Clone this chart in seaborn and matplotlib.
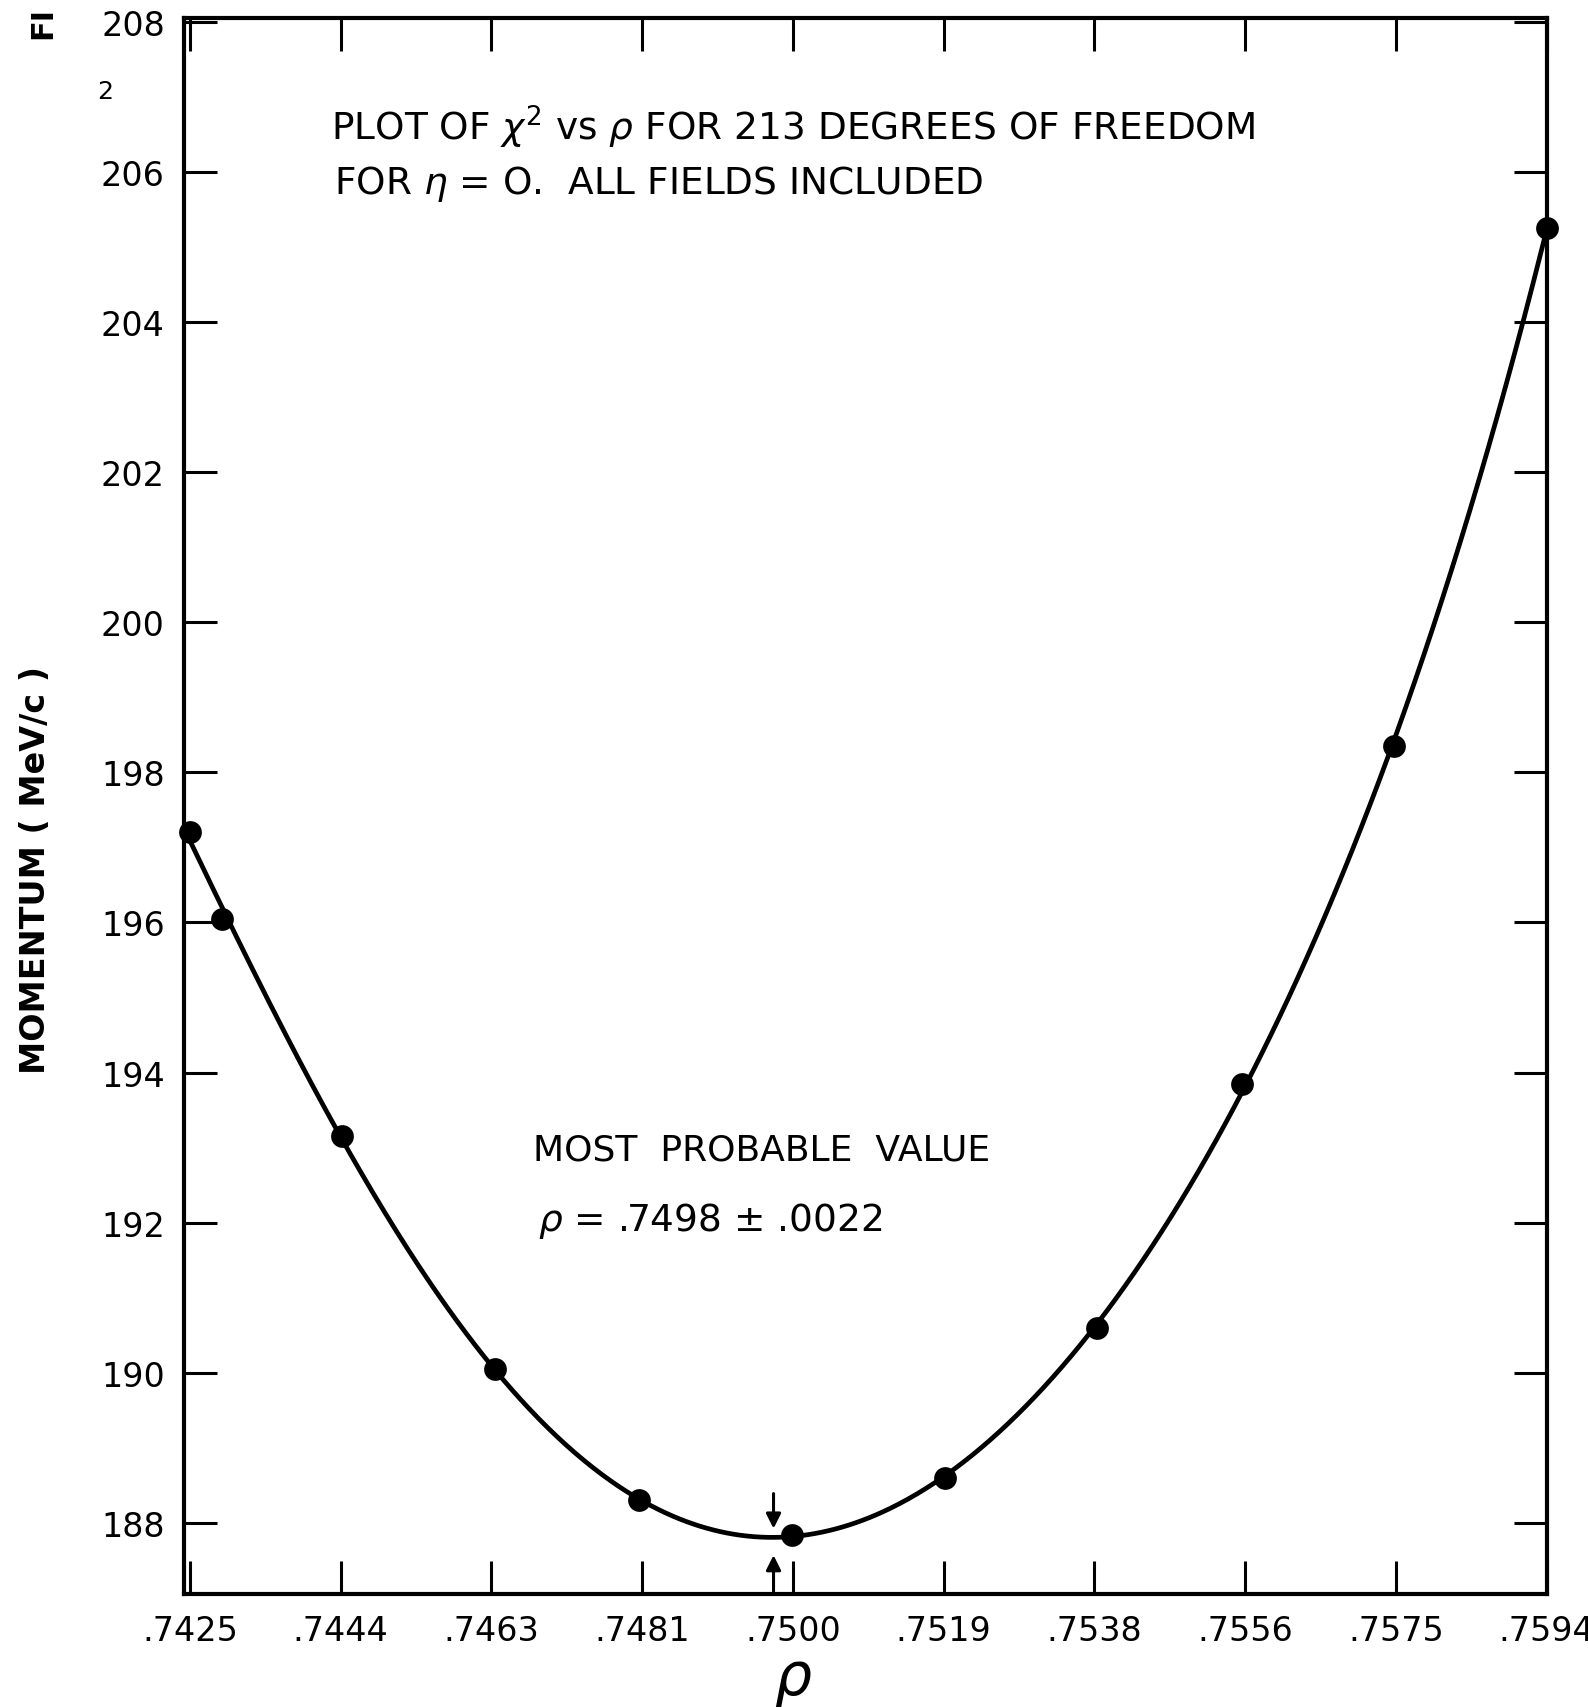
import numpy as np
import pandas as pd
import seaborn as sns
import matplotlib.pyplot as plt

# values
rho_values = [0.7425, 0.7429, 0.7444, 0.7463, 0.7481, 0.7500, 0.7519, 0.7538, 0.7556, 0.7575, 0.7594]
momentum_values = [197.2, 196.05, 193.15, 190.05, 188.3, 187.84, 188.6, 190.6, 193.85, 198.35, 205.25]
x_tick_labels = [".7425", ".7444", ".7463", ".7481", ".7500", ".7519", ".7538", ".7556", ".7575", ".7594"]
y_tick_values = [188, 190, 192, 194, 196, 198, 200, 202, 204, 206, 208]
best_rho = 0.7498
best_rho_err = 0.0022

sns.set_theme(style="ticks")
plt.rcParams['font.family'] = ['DejaVu Sans']
plt.rcParams['mathtext.fontset'] = 'dejavusans'
plt.rcParams['text.color'] = 'black'
plt.rcParams['axes.labelcolor'] = 'black'

df_points = pd.DataFrame({"rho": rho_values, "p": momentum_values})

# smooth least-squares curve through the points
xs = (np.array(rho_values) - 0.7510) * 1000
coef = np.polyfit(xs, momentum_values, 5)
x_dense = np.linspace(xs.min(), xs.max(), 600)
df_curve = pd.DataFrame({"rho": x_dense / 1000 + 0.7510, "p": np.polyval(coef, x_dense)})

fig = plt.figure(figsize=(15.88, 17.08), dpi=100)
ax = fig.add_axes([0.116, 0.066, 0.858, 0.923])

sns.lineplot(data=df_curve, x="rho", y="p", color="black", linewidth=3.4, ax=ax)
sns.scatterplot(data=df_points, x="rho", y="p", color="black", s=230, edgecolor="black",
                zorder=5, clip_on=False, ax=ax)

ax.set_xlim(0.74243, 0.7594)
ax.set_ylim(187.05, 208.05)

x_ticks = np.linspace(0.7425, 0.7594, len(x_tick_labels))
ax.set_xticks(x_ticks)
ax.set_xticklabels(x_tick_labels)
ax.set_yticks(y_tick_values)
ax.set_yticklabels([str(v) for v in y_tick_values])
ax.tick_params(axis="both", which="major", direction="in", length=24, width=2.2,
               top=True, right=True, labelsize=24, colors="black")
ax.tick_params(axis="x", pad=14)
ax.tick_params(axis="y", pad=14)
for s in ax.spines.values():
    s.set_linewidth(3)
    s.set_color("black")

ax.set_xlabel(r"$\rho$", fontsize=42)
ax.xaxis.set_label_coords(0.447, -0.036, transform=ax.transAxes)
ax.set_ylabel("MOMENTUM ( MeV/c )", fontsize=24, fontweight="bold")
ax.yaxis.set_label_coords(-0.097, 0.46, transform=ax.transAxes)

ax.text(0.108, 0.923, r"PLOT OF $\chi^2$ vs $\rho$ FOR 213 DEGREES OF FREEDOM",
        transform=ax.transAxes, fontsize=27, ha="left", va="baseline")
ax.text(0.11, 0.889, r"FOR $\eta$ = O.  ALL FIELDS INCLUDED",
        transform=ax.transAxes, fontsize=27, ha="left", va="baseline")
ax.text(0.256, 0.276, "MOST  PROBABLE  VALUE",
        transform=ax.transAxes, fontsize=26, ha="left", va="baseline")
ax.text(0.26, 0.231, r"$\rho$ = .7498 $\pm$ .0022",
        transform=ax.transAxes, fontsize=27, ha="left", va="baseline")

# arrows marking the most probable value
y_min = df_curve["p"].min()
ax.annotate("", xy=(best_rho - 0.00003, y_min + 0.08), xytext=(best_rho - 0.00003, y_min + 0.62),
            arrowprops=dict(arrowstyle="-|>", color="black", lw=2.2, mutation_scale=22))
ax.annotate("", xy=(best_rho - 0.00003, y_min - 0.2), xytext=(best_rho - 0.00003, 187.05),
            arrowprops=dict(arrowstyle="-|>", color="black", lw=2.2, mutation_scale=22))

# margin fragments of the scanned page
fig.text(0.027, 0.996, "FI", rotation=90, fontsize=22, fontweight="bold", ha="center", va="top")
fig.text(0.066, 0.946, "2", fontsize=18, ha="center", va="center")

fig.savefig("out.png", dpi=100)
